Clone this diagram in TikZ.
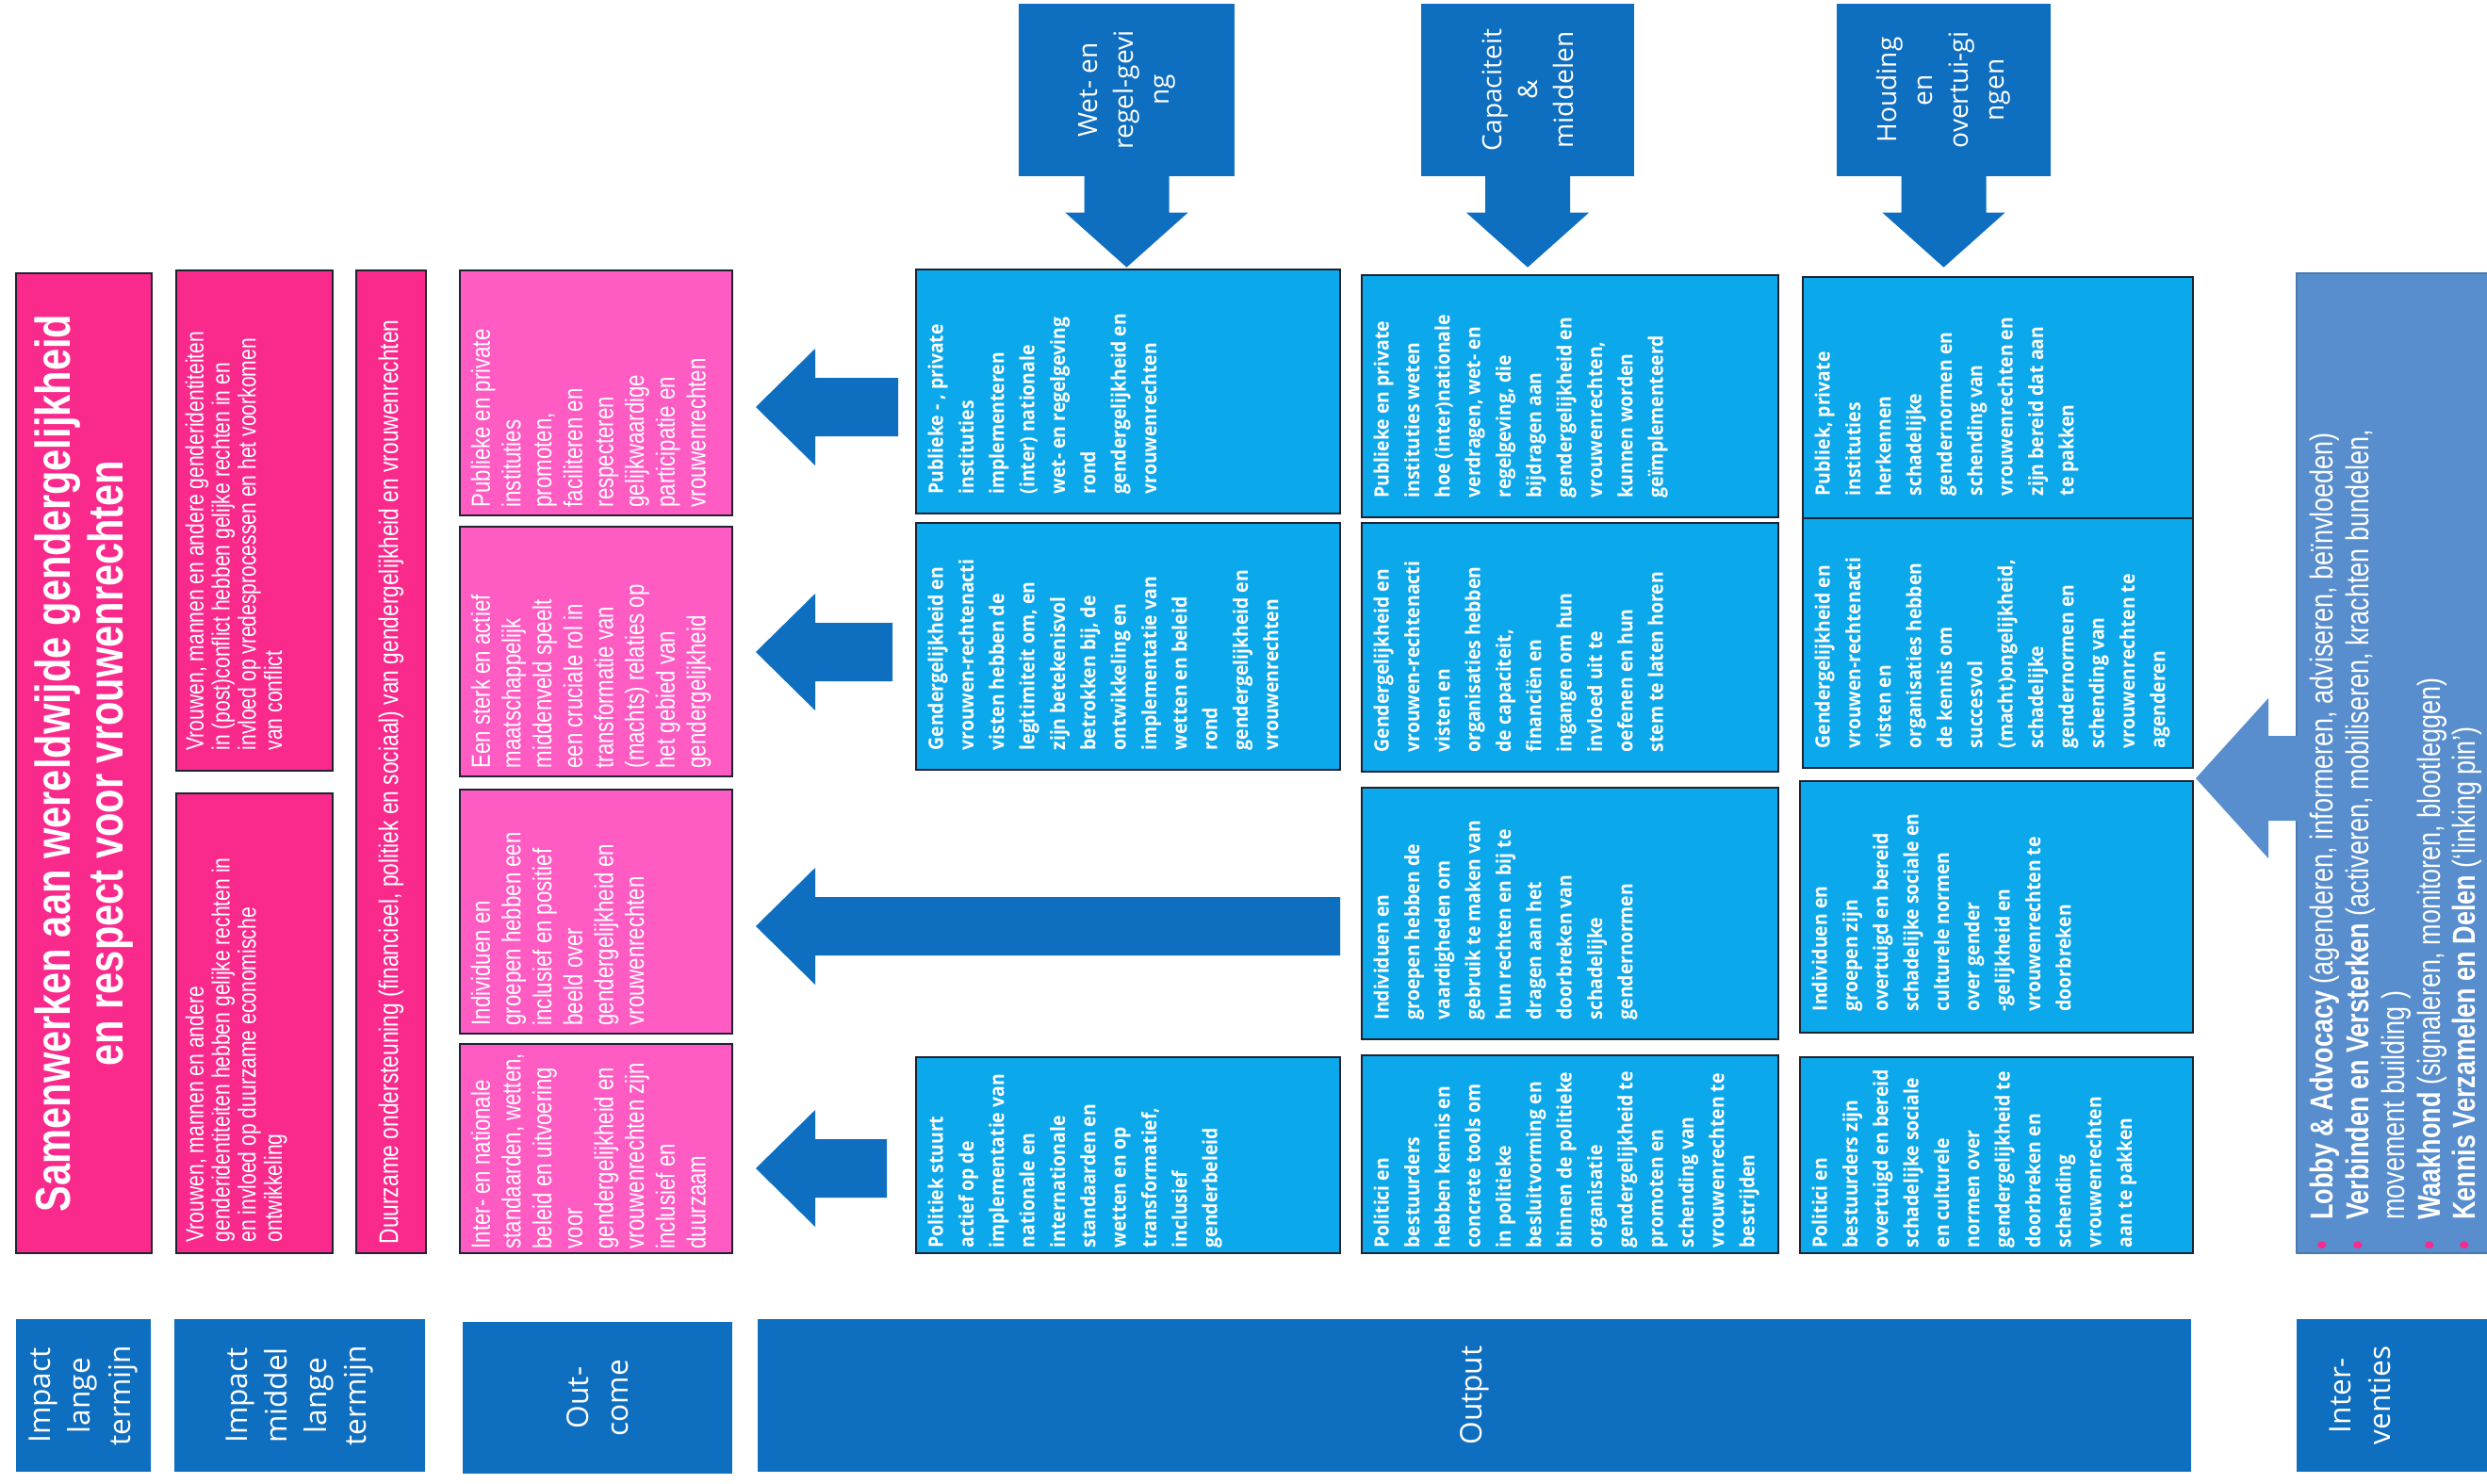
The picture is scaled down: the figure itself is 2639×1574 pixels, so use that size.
\documentclass[tikz,border=0pt]{standalone}
\usepackage{fontspec}
\setmainfont{Open Sans}
\newfontfamily\smal[FakeStretch=0.8]{Liberation Sans}
\newfontfamily\breed[FakeStretch=0.92]{Open Sans}
\usetikzlibrary{fit}

\definecolor{roos}{RGB}{250,42,140}
\definecolor{lichtroos}{RGB}{255,92,195}
\definecolor{cyaan}{RGB}{12,168,236}
\definecolor{donker}{RGB}{14,110,192}
\definecolor{grijsblauw}{RGB}{88,142,206}
\definecolor{rand}{RGB}{30,35,50}

% flèche vers la gauche : #1 = milieu (y), #2 = bout de la tige (x)
\newcommand{\linkspijl}[2]{\fill[donker] (802,#1) -- (865,#1-62) -- (865,#1-31) -- (#2,#1-31) -- (#2,#1+31) -- (865,#1+31) -- (865,#1+62) -- cycle;}
% flèche vers le bas sous un bloc d'en-tête
\newcommand{\neerpijl}[1]{\fill[donker] ([shift={(-4.5mm,0.3mm)}]#1.south) -- ([shift={(-4.5mm,-3.8mm)}]#1.south) -- ([shift={(-6.5mm,-3.8mm)}]#1.south) -- ([yshift=-9.6mm]#1.south) -- ([shift={(6.5mm,-3.8mm)}]#1.south) -- ([shift={(4.5mm,-3.8mm)}]#1.south) -- ([shift={(4.5mm,0.3mm)}]#1.south) -- cycle;}
\newcommand{\bol}{\makebox[9pt][l]{\textcolor{roos}{\textbullet}}}

\begin{document}
\begin{tikzpicture}[x=0.1mm, y=-0.1mm,
  blok/.style={draw=rand, line width=0.6pt, inner sep=0pt},
  impact/.style={blok, fill=roos},
  outcome/.style={blok, fill=lichtroos},
  output/.style={blok, fill=cyaan},
  kop/.style={fill=donker, inner sep=0pt},
  tekst/.style={rotate=90, anchor=north west, align=left, inner sep=0pt, text=white},
  roostekst/.style={tekst, font={\smal\fontsize{7.5}{7.9}\selectfont}},
  octekst/.style={tekst, font={\smal\fontsize{7.9}{9.3}\selectfont}},
  uittekst/.style={tekst, font={\breed\bfseries\fontsize{6}{9.2}\selectfont}},
  kopstekst/.style={rotate=90, align=center, inner sep=0pt, text=white, font={\fontsize{8}{10.8}\selectfont}},
  labeltekst/.style={rotate=90, align=center, inner sep=0pt, text=white, font={\fontsize{9}{12}\selectfont}}]
\path[use as bounding box, fill=white] (0,0) rectangle (2639,1574);
\clip (0,0) rectangle (2639,1574);

% impact lange termijn
\node[impact, fit={(17,290) (161,1330)}] (doel) {};
\node[rotate=90, align=center, inner sep=0pt, text=white, font={\smal\bfseries\fontsize{14.8}{15.8}\selectfont}] (doeltekst) at (doel.center) {Samenwerken aan wereldwijde gendergelijkheid\\en respect voor vrouwenrechten};

% impact middellange termijn
\node[impact, fit={(187,287) (353,818)}] (vrede) {};
\node[roostekst] (vredetekst) at ([shift={(1mm,2.2mm)}]vrede.south west) {Vrouwen, mannen en andere genderidentiteiten\\in (post)conflict hebben gelijke rechten in en\\invloed op vredesprocessen en het voorkomen\\van conflict};
\node[impact, fit={(187,842) (353,1330)}] (economie) {};
\node[roostekst] (economietekst) at ([shift={(1mm,1.2mm)}]economie.south west) {Vrouwen, mannen en andere\\genderidentiteiten hebben gelijke rechten in\\en invloed op duurzame economische\\ontwikkeling};
\node[impact, fit={(378,287) (452,1330)}] (steun) {};
\node[rotate=90, anchor=west, inner sep=0pt, text=white, font={\smal\fontsize{8.1}{8.5}\selectfont}] (steuntekst) at ([yshift=1mm]steun.south) {Duurzame ondersteuning (financieel, politiek en sociaal) van gendergelijkheid en vrouwenrechten};

% outcome
\node[outcome, fit={(488,287) (777,547)}] (oc1) {};
\node[octekst] (oc1tekst) at ([shift={(1.2mm,0.9mm)}]oc1.south west) {Publieke en private\\instituties\\promoten,\\faciliteren en\\respecteren\\gelijkwaardige\\participatie  en\\vrouwenrechten};
\node[outcome, fit={(488,559) (777,824)}] (oc2) {};
\node[octekst] (oc2tekst) at ([shift={(1.2mm,0.9mm)}]oc2.south west) {Een sterk en actief\\maatschappelijk\\middenveld speelt\\een cruciale rol in\\transformatie van\\(machts) relaties op\\het gebied van\\gendergelijkheid};
\node[outcome, fit={(488,838) (777,1097)}] (oc3) {};
\node[octekst] (oc3tekst) at ([shift={(1.2mm,0.9mm)}]oc3.south west) {Individuen en\\groepen hebben een\\inclusief en positief\\beeld over\\gendergelijkheid en\\vrouwenrechten};
\node[outcome, fit={(488,1108) (777,1330)}] (oc4) {};
\node[octekst] (oc4tekst) at ([shift={(1.2mm,0.5mm)}]oc4.south west) {Inter- en nationale\\standaarden, wetten,\\beleid en uitvoering\\voor\\gendergelijkheid en\\vrouwenrechten zijn\\inclusief en\\duurzaam};

% les flèches de l'output vers l'outcome
\linkspijl{432}{953}
\linkspijl{692}{947}
\linkspijl{983}{1422}
\linkspijl{1240}{941}

% output, wet- en regelgeving
\node[output, fit={(972,286) (1422,545)}] (u11) {};
\node[uittekst] (u11tekst) at ([shift={(1.3mm,2.1mm)}]u11.south west) {Publieke - , private\\instituties\\implementeren\\(inter) nationale\\wet- en regelgeving\\rond\\gendergelijkheid en\\vrouwenrechten};
\node[output, fit={(972,555) (1422,817)}] (u12) {};
\node[uittekst] (u12tekst) at ([shift={(1.3mm,2.1mm)}]u12.south west) {Gendergelijkheid en\\vrouwen-rechtenacti\\visten hebben de\\legitimiteit om, en\\zijn betekenisvol\\betrokken bij, de\\ontwikkeling en\\implementatie van\\wetten en beleid\\rond\\gendergelijkheid en\\vrouwenrechten};
\node[output, fit={(972,1122) (1422,1330)}] (u14) {};
\node[uittekst] (u14tekst) at ([shift={(1.3mm,0.6mm)}]u14.south west) {Politiek stuurt\\actief op de\\implementatie van\\nationale  en\\internationale\\standaarden en\\wetten en op\\transformatief,\\inclusief\\genderbeleid};

% output, capaciteit & middelen
\node[output, fit={(1445,292) (1887,549)}] (u21) {};
\node[uittekst] (u21tekst) at ([shift={(1.3mm,2.1mm)}]u21.south west) {Publieke en private\\instituties weten\\hoe (inter)nationale\\verdragen, wet- en\\regelgeving, die\\bijdragen aan\\gendergelijkheid en\\vrouwenrechten,\\kunnen worden\\geïmplementeerd};
\node[output, fit={(1445,555) (1887,819)}] (u22) {};
\node[uittekst] (u22tekst) at ([shift={(1.3mm,2.1mm)}]u22.south west) {Gendergelijkheid en\\vrouwen-rechtenacti\\visten en\\organisaties hebben\\de capaciteit,\\financiën en\\ingangen om hun\\invloed uit te\\oefenen en hun\\stem te laten horen};
\node[output, fit={(1445,836) (1887,1103)}] (u23) {};
\node[uittekst] (u23tekst) at ([shift={(1.3mm,2.1mm)}]u23.south west) {Individuen en\\groepen hebben de\\vaardigheden  om\\gebruik te maken van\\hun rechten en bij te\\dragen aan het\\doorbreken van\\schadelijke\\gendernormen};
\node[output, fit={(1445,1120) (1887,1330)}] (u24) {};
\node[uittekst] (u24tekst) at ([shift={(1.3mm,0.6mm)}]u24.south west) {Politici en\\bestuurders\\hebben kennis en\\concrete tools om\\in politieke\\besluitvorming en\\binnen de politieke\\organisatie\\gendergelijkheid te\\promoten en\\schending van\\vrouwenrechten te\\bestrijden};

% output, houding en overtuigingen
\node[output, fit={(1913,294) (2327,550)}] (u31) {};
\node[uittekst] (u31tekst) at ([shift={(1.3mm,2.4mm)}]u31.south west) {Publiek, private\\instituties\\herkennen\\schadelijke\\gendernormen en\\schending van\\vrouwenrechten en\\zijn bereid dat aan\\te pakken};
\node[output, fit={(1913,550) (2327,815)}] (u32) {};
\node[uittekst] (u32tekst) at ([shift={(1.3mm,2.1mm)}]u32.south west) {Gendergelijkheid en\\vrouwen-rechtenacti\\visten en\\organisaties hebben\\de kennis om\\succesvol\\(macht)ongelijkheid,\\schadelijke\\gendernormen en\\schending van\\vrouwenrechten  te\\agenderen};
\node[output, fit={(1910,829) (2327,1096)}] (u33) {};
\node[uittekst] (u33tekst) at ([shift={(1.3mm,2.3mm)}]u33.south west) {Individuen en\\groepen zijn\\overtuigd en bereid\\schadelijke sociale en\\culturele normen\\over gender\\-gelijkheid en\\vrouwenrechten te\\doorbreken};
\node[output, fit={(1910,1122) (2327,1330)}] (u34) {};
\node[uittekst] (u34tekst) at ([shift={(1.3mm,0.6mm)}]u34.south west) {Politici en\\bestuurders zijn\\overtuigd en bereid\\schadelijke sociale\\en culturele\\normen over\\gendergelijkheid te\\doorbreken en\\schending\\vrouwenrechten\\aan te pakken};

% les trois blocs en haut
\node[kop, fit={(1081,4) (1310,187)}] (wet) {};
\node[kopstekst] (wettekst) at (wet.center) {Wet- en\\regel-gevi\\ng};
\neerpijl{wet}
\node[kop, fit={(1508,4) (1734,187)}] (capaciteit) {};
\node[kopstekst] (capaciteittekst) at (capaciteit.center) {Capaciteit\\\&\\middelen};
\neerpijl{capaciteit}
\node[kop, fit={(1949,4) (2176,187)}] (houding) {};
\node[kopstekst] (houdingtekst) at (houding.center) {Houding\\en\\overtui-gi\\ngen};
\neerpijl{houding}

% interventies
\node[fill=grijsblauw, draw=grijsblauw!85!black, line width=0.6pt, inner sep=0pt, fit={(2437,290) (2660,1330)}] (interv) {};
\fill[grijsblauw] (2330,826) -- (2407,741) -- (2407,781) -- (2440,781) -- (2440,871) -- (2407,871) -- (2407,911) -- cycle;
\node[tekst, font={\smal\fontsize{9.6}{10.8}\selectfont}] (intervtekst) at ([shift={(1.4mm,0.4mm)}]interv.south west) {\bol\textbf{Lobby \& Advocacy} (agenderen, informeren, adviseren, beïnvloeden)\\\bol\textbf{Verbinden en Versterken} (activeren, mobiliseren, krachten bundelen,\\\hspace*{9pt}movement building )\\\bol\textbf{Waakhond} (signaleren, monitoren, blootleggen)\\\bol\textbf{Kennis Verzamelen en Delen} (‘linking pin’)};

% les étiquettes en bas
\node[kop, fit={(17,1400) (160,1562)}] (lang) {};
\node[labeltekst] (langtekst) at (lang.center) {Impact\\lange\\termijn};
\node[kop, fit={(185,1400) (451,1562)}] (middel) {};
\node[labeltekst] (middeltekst) at (middel.center) {Impact\\middel\\lange\\termijn};
\node[kop, fit={(491,1403) (777,1564)}] (outc) {};
\node[labeltekst] (outctekst) at (outc.center) {Out-\\come};
\node[kop, fit={(804,1400) (2325,1562)}] (outp) {};
\node[labeltekst] (outptekst) at (outp.center) {Output};
\node[kop, fit={(2437,1400) (2660,1562)}] (inter) {};
\node[labeltekst] (intertekst) at (2504,1481) {Inter-\\venties};
\end{tikzpicture}
\end{document}
